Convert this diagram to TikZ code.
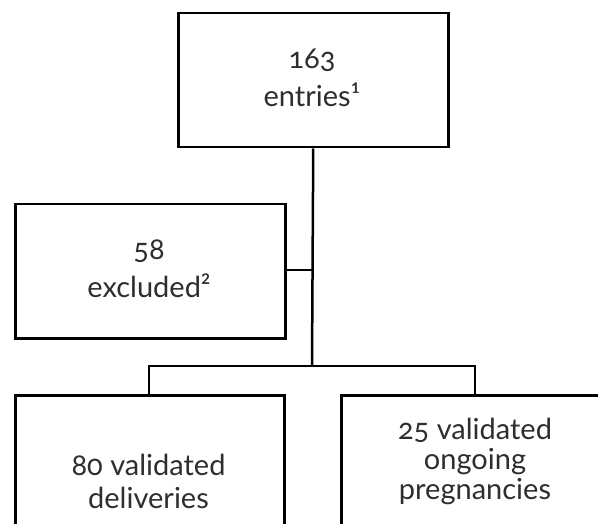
\documentclass[tikz,border=0pt]{standalone}
\usepackage{fontspec}
\setmainfont{Lato}[Numbers=OldStyle]
\begin{document}
\begin{tikzpicture}[x=1pt,y=-1pt,
  box/.style={draw=black,line width=2.5pt,rectangle,inner sep=0pt,anchor=north west},
  txt/.style={align=center,font=\fontsize{29}{32}\selectfont,text=black!82,inner sep=0pt},
  conn/.style={draw=black,line width=2.5pt}]
\useasboundingbox (0,0) rectangle (598,524);
\clip (0,0) rectangle (598,524);
% boxes
\node[box,minimum width=270pt,minimum height=134pt] (top) at (177,12) {};
\node[box,minimum width=270pt,minimum height=134pt] (excl) at (14,203) {};
\node[box,minimum width=269pt,minimum height=200pt] (deliv) at (14,394) {};
\node[box,minimum width=270pt,minimum height=200pt] (preg) at (340,394) {};
% texts
\node[txt] (toptxt) at (312,78) {163\\[6pt]entries¹};
\node[txt] (excltxt) at (149,269) {58\\[6pt]excluded²};
\node[txt] (delivtxt) at (148.5,481) {80 validated\\[1pt]deliveries};
\node[txt,font=\fontsize{29}{30}\selectfont] (pregtxt) at (475,461) {25 validated\\ongoing\\pregnancies};
% connectors
\coordinate (split) at (312,366);
\coordinate (join) at (312,270);
\coordinate (bl) at (149,366);
\coordinate (br) at (475,366);
\draw[conn] (top.south) -- (split);
\draw[conn] (excl.east |- join) -- (join);
\draw[conn,line cap=rect] (bl) -- (br);
\draw[conn] (bl) -- (bl |- deliv.north);
\draw[conn] (br) -- (br |- preg.north);
\end{tikzpicture}
\end{document}
